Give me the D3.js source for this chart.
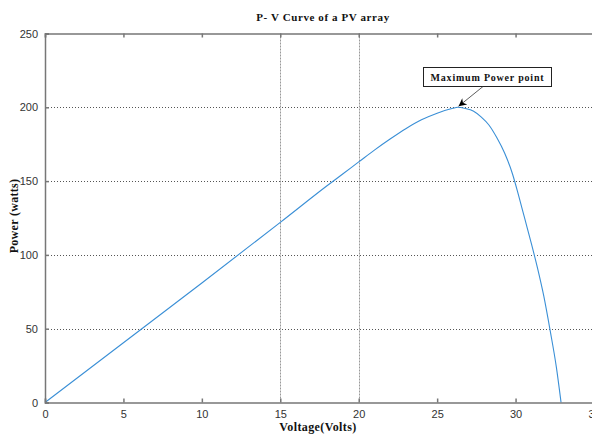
<!DOCTYPE html>
<html>
<head>
<meta charset="utf-8">
<script src="https://cdn.jsdelivr.net/npm/d3@7"></script>
<style>
  html, body { margin: 0; padding: 0; background: #fff; }
  svg { display: block; }
</style>
</head>
<body>
<svg id="chart" width="592" height="434"></svg>
<script>
// P-V curve of a PV array: voltage (V) and power (W) samples
const voltage = [0, 5, 10, 15, 18, 19, 20, 21, 22, 23, 24, 25, 26, 26.3, 26.8, 27.3, 27.8, 28.3, 28.8, 29.3, 29.8, 30.2, 30.6, 31, 31.4, 31.8, 32.2, 32.6, 32.9];
const power   = [0, 40.5, 81, 122, 147, 155, 163, 171, 178.5, 185.5, 191.5, 196, 199.3, 200, 199.2, 197.5, 193.5, 188, 179.5, 169, 155, 140, 124, 108, 91, 72, 49, 24, 0];

const xTicks = [0, 5, 10, 15, 20, 25, 30, 35];
const yTicks = [0, 50, 100, 150, 200, 250];
const xGridTicks = [15, 20];
const yGridTicks = [50, 100, 150, 200];

const peak = { v: 26.3, p: 200, label: "Maximum Power point" };

(function draw() {
  const svg = d3.select("#chart");
  const plotLeft = 45, plotRight = 594, plotTop = 33.5, plotBottom = 402.5;

  const x = d3.scaleLinear().domain([0, 35]).range([plotLeft, plotRight]);
  const y = d3.scaleLinear().domain([0, 250]).range([plotBottom, plotTop]);

  const axisColor = "#777";

  // grid lines
  svg.append("g").selectAll("line").data(yGridTicks).join("line")
    .attr("x1", plotLeft).attr("x2", plotRight)
    .attr("y1", d => Math.round(y(d)) + 0.5).attr("y2", d => Math.round(y(d)) + 0.5)
    .attr("stroke", "#555").attr("stroke-width", 1).attr("stroke-dasharray", "1,2");
  svg.append("g").selectAll("line").data(xGridTicks).join("line")
    .attr("y1", plotTop).attr("y2", plotBottom)
    .attr("x1", d => Math.round(x(d)) + 0.5).attr("x2", d => Math.round(x(d)) + 0.5)
    .attr("stroke", "#999").attr("stroke-width", 1).attr("stroke-dasharray", "2,1");

  // curve
  const line = d3.line()
    .x((d, i) => x(voltage[i]))
    .y(d => y(d))
    .curve(d3.curveMonotoneX);
  svg.append("path").datum(power)
    .attr("d", line)
    .attr("fill", "none")
    .attr("stroke", "#3a8fd6")
    .attr("stroke-width", 1.1);

  // axes (ticks pointing inward, box-style top edge)
  const xAxis = d3.axisBottom(x).tickValues(xTicks).tickSize(-4).tickPadding(8).tickFormat(d3.format("d"));
  const yAxis = d3.axisLeft(y).tickValues(yTicks).tickSize(-4).tickPadding(7).tickFormat(d3.format("d"));
  const xTop = d3.axisTop(x).tickValues(xTicks).tickSize(-4).tickFormat("");

  function styleAxis(g) {
    g.select(".domain").attr("stroke", axisColor).attr("stroke-width", 1.5);
    g.selectAll(".tick line").attr("stroke", axisColor).attr("stroke-width", 1.5);
    g.selectAll(".tick text")
      .attr("fill", "#333")
      .style("font-family", "'Liberation Sans', Arial, sans-serif")
      .style("font-size", "11px");
  }

  svg.append("g").attr("transform", `translate(0,${plotBottom})`).call(xAxis).call(styleAxis);
  svg.append("g").attr("transform", `translate(${plotLeft},0)`).call(yAxis).call(styleAxis);
  svg.append("g").attr("transform", `translate(0,${plotTop})`).call(xTop).call(styleAxis);

  const serif = "'Liberation Serif', 'Times New Roman', serif";

  // title and axis labels
  svg.append("text")
    .attr("x", 323).attr("y", 21)
    .attr("text-anchor", "middle")
    .style("font-family", serif).style("font-weight", "bold").style("font-size", "11px")
    .style("letter-spacing", "0.6px")
    .attr("fill", "#111")
    .text("P- V Curve of a PV array");

  svg.append("text")
    .attr("x", 318).attr("y", 431)
    .attr("text-anchor", "middle")
    .style("font-family", serif).style("font-weight", "bold").style("font-size", "12px")
    .style("letter-spacing", "0.4px")
    .attr("fill", "#111")
    .text("Voltage(Volts)");

  svg.append("text")
    .attr("transform", "translate(18,216) rotate(-90)")
    .attr("text-anchor", "middle")
    .style("font-family", serif).style("font-weight", "bold").style("font-size", "12px")
    .style("letter-spacing", "0.3px")
    .attr("fill", "#111")
    .text("Power (watts)");

  // annotation box with arrow to the maximum power point
  const defs = svg.append("defs");
  defs.append("marker")
    .attr("id", "arrowhead")
    .attr("viewBox", "0 0 10 10")
    .attr("refX", 10).attr("refY", 5)
    .attr("markerWidth", 10).attr("markerHeight", 8)
    .attr("markerUnits", "userSpaceOnUse")
    .attr("orient", "auto")
    .append("path").attr("d", "M0,0 L10,5 L0,10 L3,5 Z").attr("fill", "#000");

  const boxX = 423.5, boxY = 67.5, boxW = 128, boxH = 19;
  svg.append("rect")
    .attr("x", boxX).attr("y", boxY).attr("width", boxW).attr("height", boxH)
    .attr("fill", "#fff").attr("stroke", "#222").attr("stroke-width", 1);
  svg.append("text")
    .attr("x", boxX + boxW / 2).attr("y", boxY + 13)
    .attr("text-anchor", "middle")
    .style("font-family", serif).style("font-weight", "bold").style("font-size", "10px")
    .style("letter-spacing", "0.8px")
    .attr("fill", "#111")
    .text(peak.label);
  svg.append("line")
    .attr("x1", 483).attr("y1", boxY + boxH)
    .attr("x2", x(peak.v) + 1).attr("y2", y(peak.p) - 1)
    .attr("stroke", "#333").attr("stroke-width", 0.8)
    .attr("marker-end", "url(#arrowhead)");
})();
</script>
</body>
</html>
